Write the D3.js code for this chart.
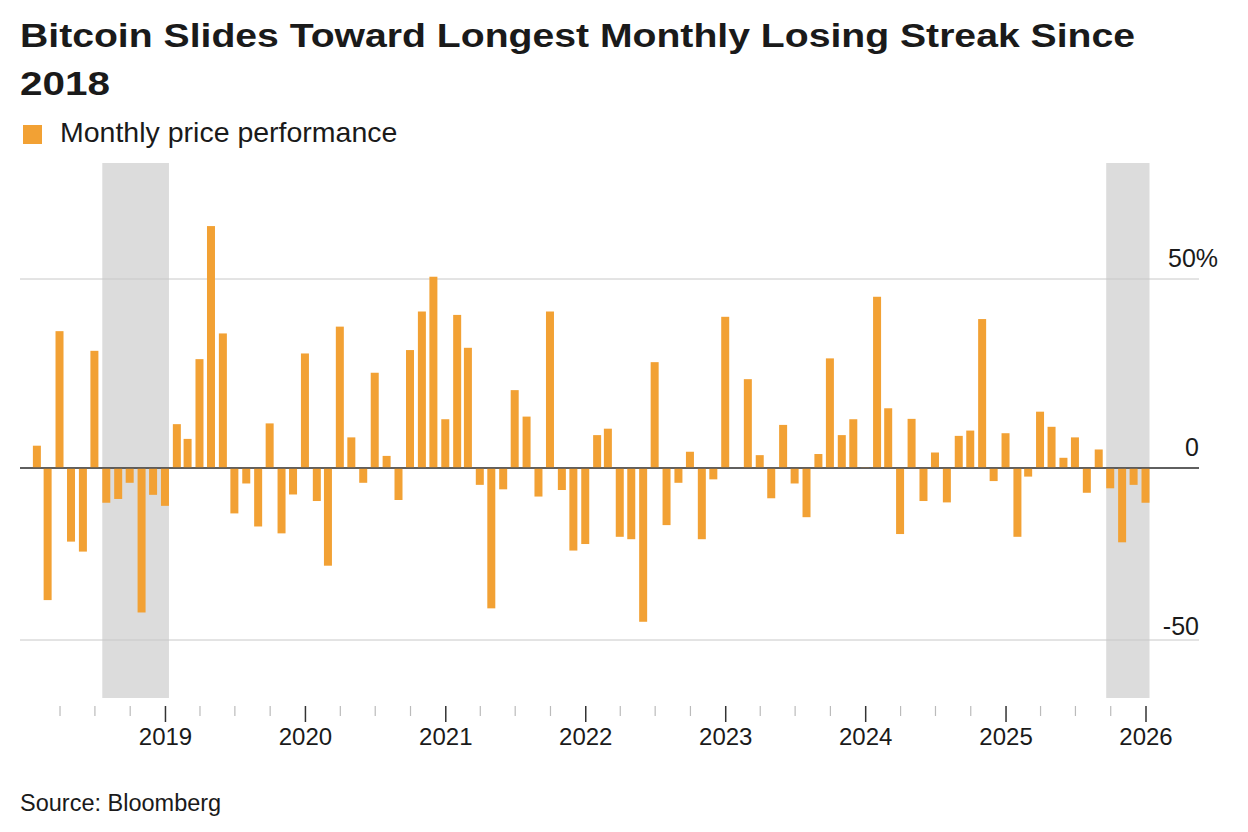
<!DOCTYPE html>
<html>
<head>
<meta charset="utf-8">
<script src="https://cdnjs.cloudflare.com/ajax/libs/d3/7.8.5/d3.min.js"></script>
<style>
  body { margin: 0; background: #fff; }
  svg text { font-family: "Liberation Sans", Arial, Helvetica, sans-serif; fill: #1a1a1a; }
</style>
</head>
<body>
<svg id="chart" width="1248" height="832"></svg>
<script>
// monthly bitcoin performance, Feb 2018 .. Jan 2026 (%)
var startMonth = "2018-02";
var values = [
  5.9, -38.4, 36.2, -21.4, -24.3, 31.0, -10.1, -9.0, -4.3, -42.0, -7.8,          // 2018
  -11.0, 11.6, 7.7, 28.8, 64.0, 35.6, -13.2, -4.5, -17.0, 11.8, -19.0, -7.7,     // 2019
  30.3, -9.6, -28.4, 37.4, 8.1, -4.3, 25.2, 3.2, -9.3, 31.2, 41.4, 50.6,         // 2020
  12.9, 40.5, 31.8, -4.9, -40.8, -6.2, 20.6, 13.6, -8.3, 41.4, -6.4, -24.0,      // 2021
  -22.1, 8.7, 10.4, -20.0, -20.7, -44.7, 28.0, -16.6, -4.3, 4.3, -20.7, -3.3,    // 2022
  40.0, 0.05, 23.5, 3.4, -8.8, 11.4, -4.5, -14.3, 3.7, 29.0, 8.7, 12.9,          // 2023
  0.2, 45.3, 15.8, -19.2, 13.0, -9.6, 4.1, -10.0, 8.5, 9.9, 39.4, -3.8,          // 2024
  9.2, -20.0, -2.5, 14.9, 10.9, 2.7, 8.1, -7.2, 4.9, -5.9, -21.6, -4.9,          // 2025
  -10.1                                                                          // 2026
];
// losing streaks that are shaded (first and last month)
var streaks = [["2018-08", "2019-01"], ["2025-10", "2026-01"]];
var yTicks = [-50, 0, 50];
var yearTicks = [2019, 2020, 2021, 2022, 2023, 2024, 2025, 2026];

var parseMonth = d3.timeParse("%Y-%m");
var first = parseMonth(startMonth);
var data = values.map(function(v, i) {
  return { date: d3.timeMonth.offset(first, i), value: v };
});

var svg = d3.select("#chart");
svg.append("rect").attr("width", 1248).attr("height", 832).attr("fill", "#fff");

var x = d3.scaleTime()
  .domain([new Date(2018, 0, 1), new Date(2026, 0, 1)])
  .range([25, 1145.5]);

var y = d3.scaleLinear()
  .domain([-50, 0, 50])
  .range([640, 468, 279]);

var barW = 8;
var plotTop = 163, plotBottom = 698;

// title (heavy, wide face -> stretch the bold sans a bit)
svg.append("text")
  .attr("x", 20).attr("y", 47)
  .attr("textLength", 1115).attr("lengthAdjust", "spacingAndGlyphs")
  .style("font-size", "33px").style("font-weight", "bold")
  .text("Bitcoin Slides Toward Longest Monthly Losing Streak Since");
svg.append("text")
  .attr("x", 20).attr("y", 95)
  .attr("textLength", 90).attr("lengthAdjust", "spacingAndGlyphs")
  .style("font-size", "33px").style("font-weight", "bold")
  .text("2018");

// legend
svg.append("rect")
  .attr("x", 23).attr("y", 125).attr("width", 19).attr("height", 19)
  .attr("fill", "#F2A134");
svg.append("text")
  .attr("x", 60).attr("y", 142)
  .style("font-size", "28.5px")
  .text("Monthly price performance");

// shaded streaks
svg.append("g").selectAll("rect")
  .data(streaks)
  .enter().append("rect")
    .attr("x", function(d) { return x(parseMonth(d[0])) - barW / 2; })
    .attr("width", function(d) { return x(parseMonth(d[1])) - x(parseMonth(d[0])) + barW; })
    .attr("y", plotTop)
    .attr("height", plotBottom - plotTop)
    .attr("fill", "#dcdcdc");

// grid lines + labels
var grid = svg.append("g");
grid.selectAll("line")
  .data(yTicks)
  .enter().append("line")
    .attr("x1", 20).attr("x2", 1199)
    .attr("y1", function(d) { return y(d); })
    .attr("y2", function(d) { return y(d); })
    .attr("stroke", function(d) { return d === 0 ? "#555" : "#c8c8c8"; })
    .attr("stroke-width", function(d) { return d === 0 ? 1.6 : 1; });

// bars
svg.append("g").selectAll("rect")
  .data(data)
  .enter().append("rect")
    .attr("x", function(d) { return x(d.date) - barW / 2; })
    .attr("width", barW)
    .attr("y", function(d) { return Math.min(y(d.value), y(0)); })
    .attr("height", function(d) { return Math.abs(y(d.value) - y(0)); })
    .attr("fill", "#F2A134");

// redraw zero line over bars
svg.append("line")
  .attr("x1", 20).attr("x2", 1199)
  .attr("y1", y(0)).attr("y2", y(0))
  .attr("stroke", "#555").attr("stroke-width", 1.6);

grid.selectAll("text")
  .data(yTicks)
  .enter().append("text")
    .attr("x", 1199)
    .attr("y", function(d) { return y(d) - (d < 0 ? 5 : 12); })
    .style("font-size", "25px")
    .attr("text-anchor", "end")
    .text(function(d) { return d; })
    .filter(function(d) { return d === 50; })
    .append("tspan").text("%");
grid.selectAll("text").filter(function(d) { return d === 50; })
  .attr("text-anchor", "start").attr("x", 1168);

// x axis: quarterly minor ticks, yearly major ticks
var quarters = d3.timeMonth.every(3).range(new Date(2018, 3, 1), new Date(2026, 0, 2))
  .filter(function(d) { return d.getMonth() !== 0; });
var minorAxis = d3.axisBottom(x).tickValues(quarters).tickSize(10).tickFormat("");
var gMinor = svg.append("g").attr("transform", "translate(0,706)").call(minorAxis);
gMinor.select(".domain").remove();
gMinor.selectAll("line").attr("stroke", "#bbb").attr("stroke-width", 1.2);

var majorAxis = d3.axisBottom(x)
  .tickValues(yearTicks.map(function(yr) { return new Date(yr, 0, 1); }))
  .tickSize(16).tickPadding(6)
  .tickFormat(d3.timeFormat("%Y"));
var gMajor = svg.append("g").attr("transform", "translate(0,706)").call(majorAxis);
gMajor.select(".domain").remove();
gMajor.selectAll("line").attr("stroke", "#333").attr("stroke-width", 1.5);
gMajor.selectAll("text")
  .style("font-size", "24px")
  .style("font-family", "'Liberation Sans', Arial, sans-serif")
  .attr("fill", "#1a1a1a");

// source
svg.append("text")
  .attr("x", 20).attr("y", 811)
  .style("font-size", "23.5px")
  .text("Source: Bloomberg");
</script>
</body>
</html>
